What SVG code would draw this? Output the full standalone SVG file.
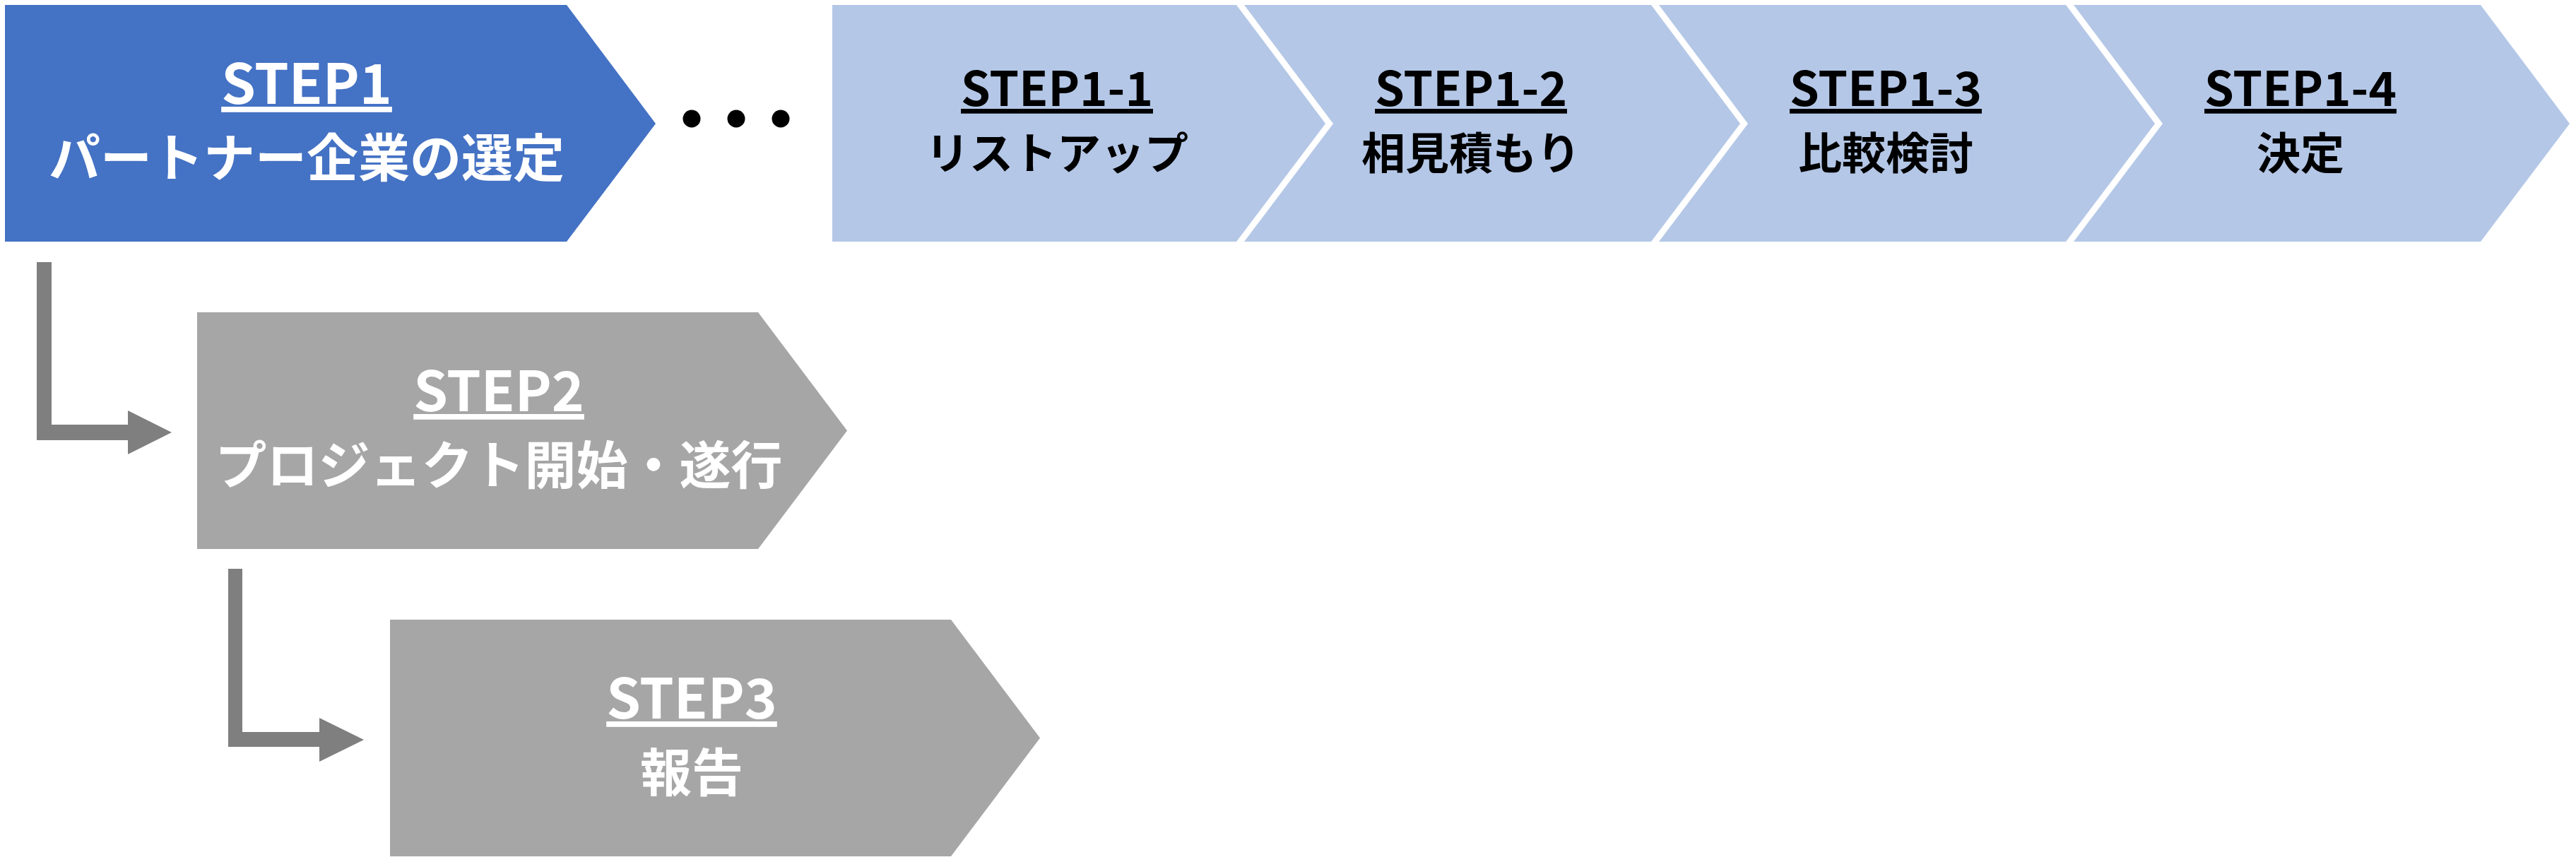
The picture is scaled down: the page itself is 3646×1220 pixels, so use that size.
<svg xmlns="http://www.w3.org/2000/svg" width="3646" height="1220" viewBox="0 0 3646 1220">
<style>
text{font-family:"Noto Sans CJK JP","Noto Sans",sans-serif;font-weight:700;text-anchor:middle}
.main{fill:#FFFFFF}
.sub{fill:#000000}
.lblM{font-size:78px;text-decoration:underline}
.ttlM{font-size:73px}
.lblS{font-size:67px;text-decoration:underline}
.ttlS{font-size:62px}
.blue{fill:#4472C4}
.light{fill:#B4C7E7}
.gray{fill:#A6A6A6}
.conn{fill:#7F7F7F}
</style>
<rect width="3646" height="1220" fill="#FFFFFF"/>
<g id="step1">
<polygon class="blue" points="7,7 802,7 928,175 802,342 7,342"/>
<text class="main lblM" x="434" y="147">STEP1</text>
<text class="main ttlM" x="434" y="250">パートナー企業の選定</text>
</g>
<g id="ellipsis">
<circle cx="979" cy="168" r="12.5" fill="#000000"/>
<circle cx="1042" cy="168" r="12.5" fill="#000000"/>
<circle cx="1105" cy="168" r="12.5" fill="#000000"/>
</g>
<g id="step1-1">
<polygon class="light" points="1178,7 1750,7 1876,175 1750,342 1178,342"/>
<text class="sub lblS" x="1496" y="150">STEP1-1</text>
<text class="sub ttlS" x="1496" y="240">リストアップ</text>
</g>
<g id="step1-2">
<polygon class="light" points="1761,7 2337,7 2463,175 2337,342 1761,342 1887,175"/>
<text class="sub lblS" x="2082" y="150">STEP1-2</text>
<text class="sub ttlS" x="2082" y="240">相見積もり</text>
</g>
<g id="step1-3">
<polygon class="light" points="2348,7 2924,7 3050,175 2924,342 2348,342 2474,175"/>
<text class="sub lblS" x="2669" y="150">STEP1-3</text>
<text class="sub ttlS" x="2669" y="240">比較検討</text>
</g>
<g id="step1-4">
<polygon class="light" points="2935,7 3511,7 3637,175 3511,342 2935,342 3061,175"/>
<text class="sub lblS" x="3256" y="150">STEP1-4</text>
<text class="sub ttlS" x="3256" y="240">決定</text>
</g>
<g id="step2">
<polygon class="gray" points="279,442 1073,442 1199,609.5 1073,777 279,777"/>
<text class="main lblM" x="706" y="582">STEP2</text>
<text class="main ttlM" x="706" y="685">プロジェクト開始・遂行</text>
</g>
<g id="step3">
<polygon class="gray" points="552,877 1346,877 1472,1044.5 1346,1212 552,1212"/>
<text class="main lblM" x="979" y="1017">STEP3</text>
<text class="main ttlM" x="979" y="1120">報告</text>
</g>
<g id="connectors">
<polygon class="conn" points="52,371 73,371 73,601 181,601 181,581 243,612 181,643 181,623 52,623"/>
<polygon class="conn" points="323,805 343,805 343,1036 452,1036 452,1016 515,1047 452,1078 452,1057 323,1057"/>
</g>
</svg>
